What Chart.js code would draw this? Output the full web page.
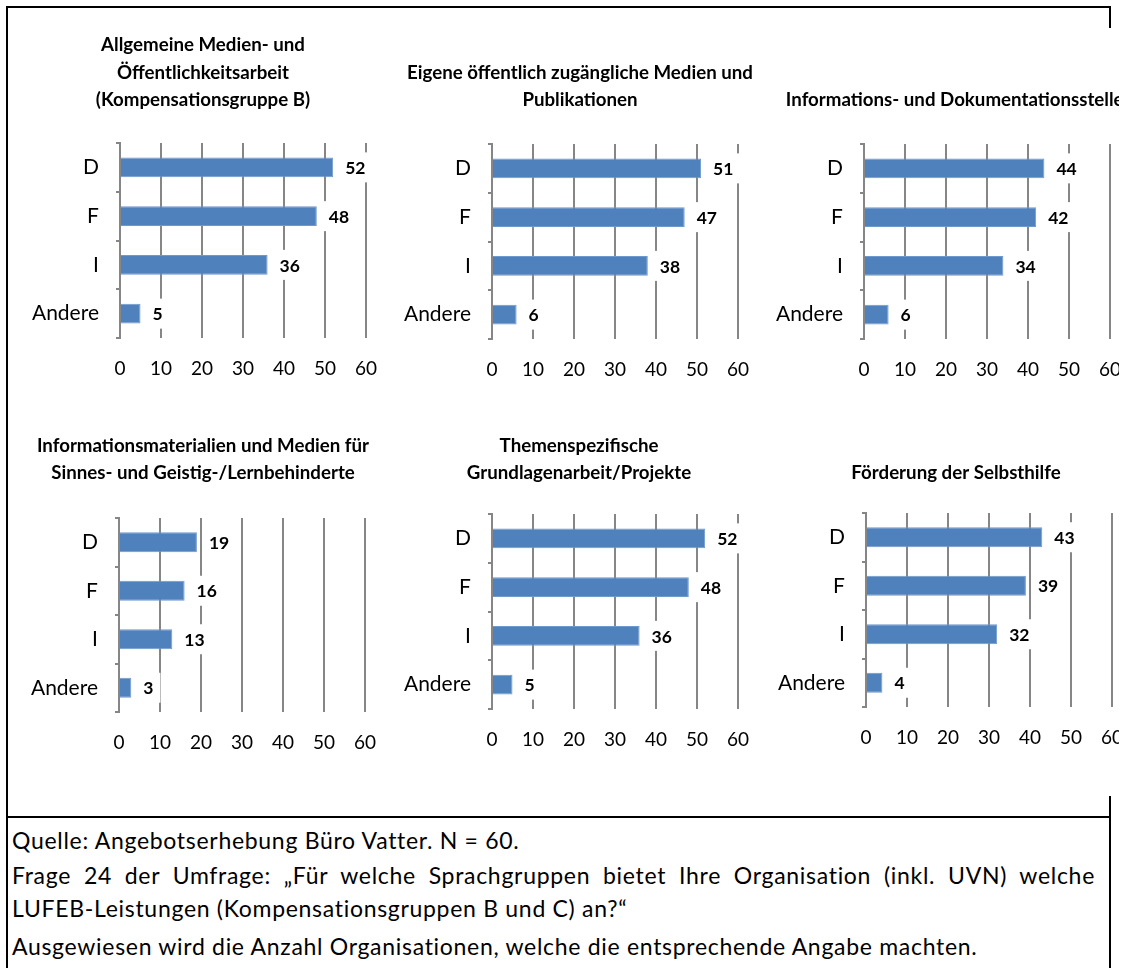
<!DOCTYPE html>
<html lang="de">
<head>
<meta charset="utf-8">
<title>LUFEB-Leistungen nach Sprachgruppen</title>
<script src="https://cdn.jsdelivr.net/npm/chart.js@4.4.1/dist/chart.umd.min.js"></script>
<style>
  html, body { margin: 0; padding: 0; background: #fff; }
  #page { position: relative; width: 1126px; height: 968px; overflow: hidden; font-family: Lato, sans-serif; }
  #charts { position: absolute; left: 0; top: 0; width: 1119px; height: 800px; overflow: hidden; }
  #charts canvas { position: absolute; }
  .rule { position: absolute; background: #000; }
  .note { position: absolute; left: 12px; font-size: 23px; letter-spacing: 0.7px; line-height: 27px; color: #000; white-space: nowrap; }
  .justify { width: 1083px; text-align: justify; text-align-last: justify; }
</style>
</head>
<body>
<div id="page">
  <div id="charts"></div>

  <!-- frame around the figure and the source box -->
  <div class="rule" style="left:6px;top:6px;width:1105px;height:2px"></div>
  <div class="rule" style="left:6px;top:6px;width:2px;height:962px"></div>
  <div class="rule" style="left:1109px;top:6px;width:2px;height:22px"></div>
  <div class="rule" style="left:1109px;top:796px;width:2px;height:172px"></div>
  <div class="rule" style="left:6px;top:816px;width:1105px;height:2px"></div>

  <div class="note" style="top:827px">Quelle: Angebotserhebung Büro Vatter. N = 60.</div>
  <div class="note justify" style="top:862px">Frage 24 der Umfrage: „Für welche Sprachgruppen bietet Ihre Organisation (inkl. UVN) welche</div>
  <div class="note" style="top:895px">LUFEB-Leistungen (Kompensationsgruppen B und C) an?“</div>
  <div class="note" style="top:933px">Ausgewiesen wird die Anzahl Organisationen, welche die entsprechende Angabe machten.</div>
</div>

<script>
// Sprachgruppen (same for every panel)
const languages = ['D', 'F', 'I', 'Andere'];

const titleMedien = ['Allgemeine Medien- und', 'Öffentlichkeitsarbeit', '(Kompensationsgruppe B)'];
const valuesMedien = [52, 48, 36, 5];

const titlePublikationen = ['Eigene öffentlich zugängliche Medien und', 'Publikationen'];
const valuesPublikationen = [51, 47, 38, 6];

const titleDokumentation = ['Informations- und Dokumentationsstellen'];
const valuesDokumentation = [44, 42, 34, 6];

const titleBehinderte = ['Informationsmaterialien und Medien für', 'Sinnes- und Geistig-/Lernbehinderte'];
const valuesBehinderte = [19, 16, 13, 3];

const titleGrundlagen = ['Themenspezifische', 'Grundlagenarbeit/Projekte'];
const valuesGrundlagen = [52, 48, 36, 5];

const titleSelbsthilfe = ['Förderung der Selbsthilfe'];
const valuesSelbsthilfe = [43, 39, 32, 4];

// value axis
const axisMax = 60;
const axisStep = 10;

const BAR_BLUE = '#4f81bd';
const GRID_GREY = '#868686';

// where each small chart sits on the page
const panels = [
  { title: titleMedien,        values: valuesMedien,        top: 14,  plotLeft: 120, plotTop: 143, plotBottom: 338, titleX: 203, lastLineY: 100 },
  { title: titlePublikationen, values: valuesPublikationen, top: 14,  plotLeft: 492, plotTop: 144, plotBottom: 339, titleX: 580, lastLineY: 100 },
  { title: titleDokumentation, values: valuesDokumentation, top: 14,  plotLeft: 864, plotTop: 144, plotBottom: 339, titleX: 960, lastLineY: 100 },
  { title: titleBehinderte,    values: valuesBehinderte,    top: 400, plotLeft: 119, plotTop: 518, plotBottom: 712, titleX: 203, lastLineY: 473 },
  { title: titleGrundlagen,    values: valuesGrundlagen,    top: 400, plotLeft: 492, plotTop: 514, plotBottom: 709, titleX: 579, lastLineY: 473 },
  { title: titleSelbsthilfe,   values: valuesSelbsthilfe,   top: 400, plotLeft: 866, plotTop: 513, plotBottom: 707, titleX: 956, lastLineY: 473 }
];

const PLOT_W = 246;      // width of the value range 0..60
const Y_AXIS_W = 116;    // room for the category labels
const X_AXIS_H = 50;     // room for the tick labels under the plot
const TITLE_LINE = 27.5;

// bold numbers right of each bar, on a white box that hides the grid behind
const valueLabels = {
  id: 'valueLabels',
  afterDatasetsDraw(chart) {
    const ctx = chart.ctx;
    const meta = chart.getDatasetMeta(0);
    const data = chart.data.datasets[0].data;
    ctx.save();
    ctx.font = 'bold 17.5px Lato';
    ctx.textBaseline = 'middle';
    ctx.textAlign = 'left';
    meta.data.forEach((bar, i) => {
      const text = String(data[i]);
      const w = ctx.measureText(text).width;
      ctx.fillStyle = '#fff';
      ctx.fillRect(bar.x + 6, bar.y - 15, w + 13, 30);
      ctx.fillStyle = '#000';
      ctx.fillText(text, bar.x + 12, bar.y + 1);
    });
    ctx.restore();
  }
};

function buildPanel(p) {
  const left = p.plotLeft - Y_AXIS_W;
  const width = Math.round(2 * (p.titleX - left));
  const rightRoom = width - Y_AXIS_W - PLOT_W;
  const height = p.plotBottom + X_AXIS_H - p.top;
  const lines = p.title.length;
  const firstLineY = p.lastLineY - (lines - 1) * TITLE_LINE;

  const canvas = document.createElement('canvas');
  canvas.width = width;
  canvas.height = height;
  canvas.style.left = left + 'px';
  canvas.style.top = p.top + 'px';
  canvas.style.width = width + 'px';
  canvas.style.height = height + 'px';
  document.getElementById('charts').appendChild(canvas);

  return new Chart(canvas.getContext('2d'), {
    type: 'bar',
    data: {
      labels: languages,
      datasets: [{
        data: p.values,
        backgroundColor: BAR_BLUE,
        borderColor: '#6f98cc',
        borderWidth: 1,
        barPercentage: 0.41,
        categoryPercentage: 1
      }]
    },
    options: {
      indexAxis: 'y',
      responsive: false,
      animation: false,
      devicePixelRatio: 1,
      layout: { padding: 0 },
      plugins: {
        legend: { display: false },
        tooltip: { enabled: false },
        title: {
          display: true,
          text: p.title,
          color: '#000',
          font: { family: 'Lato', size: 18.7, weight: 'bold', lineHeight: TITLE_LINE + 'px' },
          padding: {
            top: firstLineY - TITLE_LINE / 2 - p.top,
            bottom: p.plotTop - (p.lastLineY + TITLE_LINE / 2)
          }
        }
      },
      scales: {
        x: {
          min: 0,
          max: axisMax,
          ticks: { stepSize: axisStep, color: '#000', font: { family: 'Lato', size: 19 }, padding: 19 },
          grid: { color: GRID_GREY, lineWidth: 2, drawTicks: false },
          border: { display: false },
          afterFit(scale) { scale.height = X_AXIS_H; }
        },
        y: {
          ticks: { color: '#000', font: { family: 'Lato', size: 21 }, padding: 17 },
          grid: { drawOnChartArea: false, tickLength: 4, color: GRID_GREY, lineWidth: 2 },
          border: { color: GRID_GREY, width: 2 },
          afterFit(scale) { scale.width = Y_AXIS_W; }
        },
        // empty axis on the right, keeps the title centred over the whole chart
        yRight: {
          type: 'category',
          position: 'right',
          grid: { display: false },
          border: { display: false },
          ticks: { display: false },
          afterFit(scale) { scale.width = rightRoom; }
        }
      }
    },
    plugins: [valueLabels]
  });
}

function buildAll() {
  panels.forEach(buildPanel);
}

Promise.all([
  document.fonts.load('17px Lato'),
  document.fonts.load('bold 17px Lato')
]).then(buildAll, buildAll);
</script>
</body>
</html>
